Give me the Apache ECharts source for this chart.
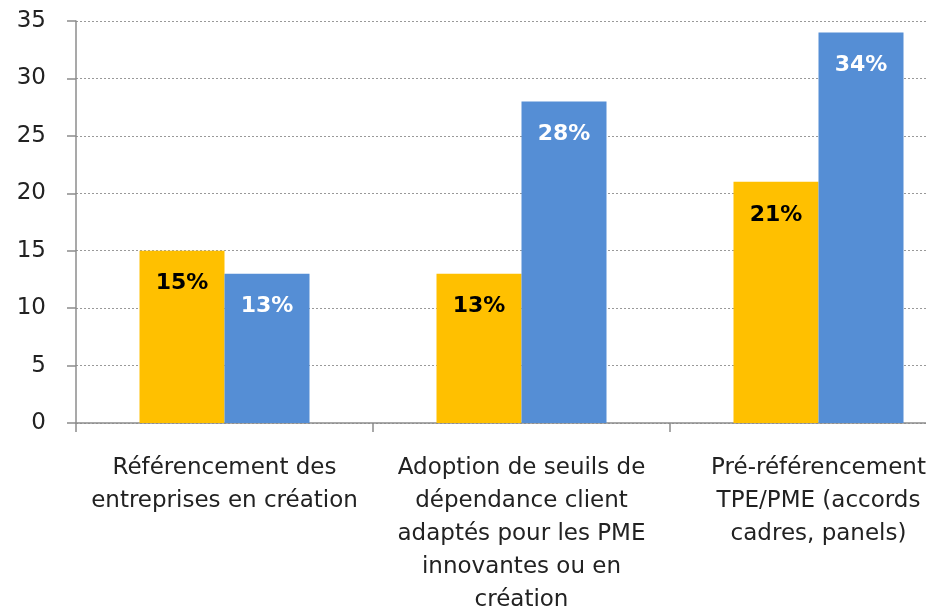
<!DOCTYPE html>
<html>
<head>
<meta charset="utf-8">
<script src="https://cdn.jsdelivr.net/npm/echarts@6/dist/echarts.min.js"></script>
<style>
html, body { margin: 0; padding: 0; background: #fff; }
#chart { width: 926px; height: 607px; }
</style>
</head>
<body>
<div id="chart"></div>
<script>
// catégories (axe x)
var categories = [
	'Référencement des\nentreprises en création',
	'Adoption de seuils de\ndépendance client\nadaptés pour les PME\ninnovantes ou en\ncréation',
	'Pré-référencement\nTPE/PME (accords\ncadres, panels)'
];
// séries
var serieJaune = [15, 13, 21];
var serieBleue = [13, 28, 34];
// graduations axe y
var yMin = 0;
var yMax = 35;
var yStep = 5;

var myChart = echarts.init(document.getElementById('chart'));

// étiquettes dans les barres
var labelBase = {
	show: true,
	position: 'insideTop',
	distance: 22,
	fontSize: 22,
	fontWeight: 'bold',
	fontFamily: 'DejaVu Sans',
	formatter: function(p) { return p.value + '%'; }
};

var option = {
	animation: false,
	backgroundColor: '#fff',
	grid: {
		left: 76,
		right: -41, // le graphique d'origine est coupé à droite
		top: 21,
		bottom: 184,
		outerBoundsMode: 'none',
		containLabel: false
	},
	xAxis: {
		type: 'category',
		data: categories,
		axisLine: { lineStyle: { color: '#8c8c8c', width: 1.5 } },
		axisTick: { show: true, length: 9, lineStyle: { color: '#8c8c8c', width: 1.5 } },
		axisLabel: {
			interval: 0,
			margin: 29,
			fontSize: 23,
			lineHeight: 33,
			color: '#222',
			fontFamily: 'DejaVu Sans'
		}
	},
	yAxis: {
		type: 'value',
		min: yMin,
		max: yMax,
		interval: yStep,
		axisLine: { show: true, lineStyle: { color: '#8c8c8c', width: 1.5 } },
		axisTick: { show: true, length: 9, lineStyle: { color: '#8c8c8c', width: 1.5 } },
		axisLabel: {
			margin: 30,
			fontSize: 23,
			color: '#222',
			fontFamily: 'DejaVu Sans'
		},
		splitLine: { lineStyle: { color: '#999', type: [2, 2], width: 1 } }
	},
	series: [{
		type: 'bar',
		data: serieJaune,
		barWidth: 85,
		barGap: '0%',
		itemStyle: { color: '#FFC000' },
		label: Object.assign({}, labelBase, { color: '#000' })
	}, {
		type: 'bar',
		data: serieBleue,
		barWidth: 85,
		barGap: '0%',
		itemStyle: { color: '#558ED5' },
		label: Object.assign({}, labelBase, { color: '#fff' })
	}]
};
myChart.setOption(option);
</script>
</body>
</html>
